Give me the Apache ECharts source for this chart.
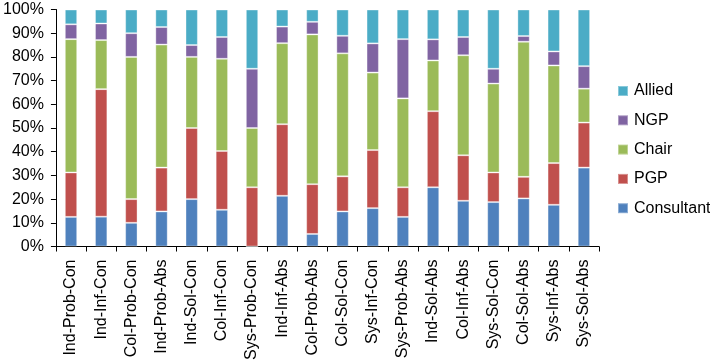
<!DOCTYPE html>
<html>
<head>
<meta charset="utf-8">
<script src="https://cdn.jsdelivr.net/npm/echarts@6/dist/echarts.min.js"></script>
<style>html,body{margin:0;padding:0;background:#fff}#c{width:710px;height:363px}</style>
</head>
<body>
<div id="c"></div>
<script>
var categories = ['Ind-Prob-Con','Ind-Inf-Con','Col-Prob-Con','Ind-Prob-Abs','Ind-Sol-Con','Col-Inf-Con','Sys-Prob-Con','Ind-Inf-Abs','Col-Prob-Abs','Col-Sol-Con','Sys-Inf-Con','Sys-Prob-Abs','Ind-Sol-Abs','Col-Inf-Abs','Sys-Sol-Con','Col-Sol-Abs','Sys-Inf-Abs','Sys-Sol-Abs'];
var consultant = [12.5, 12.6, 10, 14.8, 20, 15.5, 0, 21.4, 5.3, 14.8, 16.2, 12.5, 25, 19.3, 18.75, 20.3, 17.6, 33.3];
var pgp        = [18.75, 53.8, 10, 18.5, 30, 24.8, 25, 30.2, 21.0, 14.8, 24.5, 12.5, 32.1, 19.2, 12.5, 9.1, 17.6, 19.0];
var chair      = [56.25, 20.7, 60, 51.9, 30, 38.9, 25, 34.2, 63.2, 51.9, 32.7, 37.5, 21.4, 42.2, 37.5, 57.0, 41.2, 14.3];
var ngp        = [6.25, 7.0, 10, 7.4, 5, 9.2, 25, 7.0, 5.3, 7.4, 12.3, 25, 8.9, 7.7, 6.25, 2.4, 5.9, 9.5];
var allied     = [6.25, 5.9, 10, 7.4, 15, 11.6, 25, 7.2, 5.2, 11.1, 14.3, 12.5, 12.6, 11.6, 25, 11.2, 17.7, 23.9];
var yTicks = ['0%','10%','20%','30%','40%','50%','60%','70%','80%','90%','100%'];

var font = 'Liberation Sans, Arial, sans-serif';
var chart = echarts.init(document.getElementById('c'));
function s(name, data, color) {
  return {name: name, type: 'bar', stack: 'a', data: data, barWidth: '41%',
    itemStyle: {color: color, borderColor: 'rgba(255,255,255,0.35)', borderWidth: 1}};
}
chart.setOption({
  animation: false,
  grid: {left: 54, right: 111, top: 9.5, bottom: 115},
  legend: {
    orient: 'vertical', left: 612, top: 78, itemGap: 13.3, itemWidth: 10, itemHeight: 10,
    icon: 'rect',
    textStyle: {fontFamily: font, fontSize: 16, lineHeight: 16, color: '#000', padding: [0,0,0,1]},
    data: ['Allied','NGP','Chair','PGP','Consultant']
  },
  xAxis: {
    type: 'category', data: categories,
    axisLine: {lineStyle: {color: '#000', width: 1}},
    axisTick: {show: true, length: 5, lineStyle: {color: '#000'}},
    axisLabel: {rotate: 90, interval: 0, fontFamily: font, fontSize: 16, color: '#000', margin: 13}
  },
  yAxis: {
    type: 'value', min: 0, max: 100, interval: 10,
    axisLine: {show: true, lineStyle: {color: '#000', width: 1}},
    axisTick: {show: true, length: 5, lineStyle: {color: '#000'}},
    splitLine: {show: false},
    axisLabel: {fontFamily: font, fontSize: 16, color: '#000', margin: 12,
      formatter: function (v) { return yTicks[Math.round(v / 10)]; }}
  },
  series: [
    s('Consultant', consultant, '#4F81BD'),
    s('PGP', pgp, '#C0504D'),
    s('Chair', chair, '#9BBB59'),
    s('NGP', ngp, '#8064A2'),
    s('Allied', allied, '#4BACC6')
  ]
});
</script>
</body>
</html>
